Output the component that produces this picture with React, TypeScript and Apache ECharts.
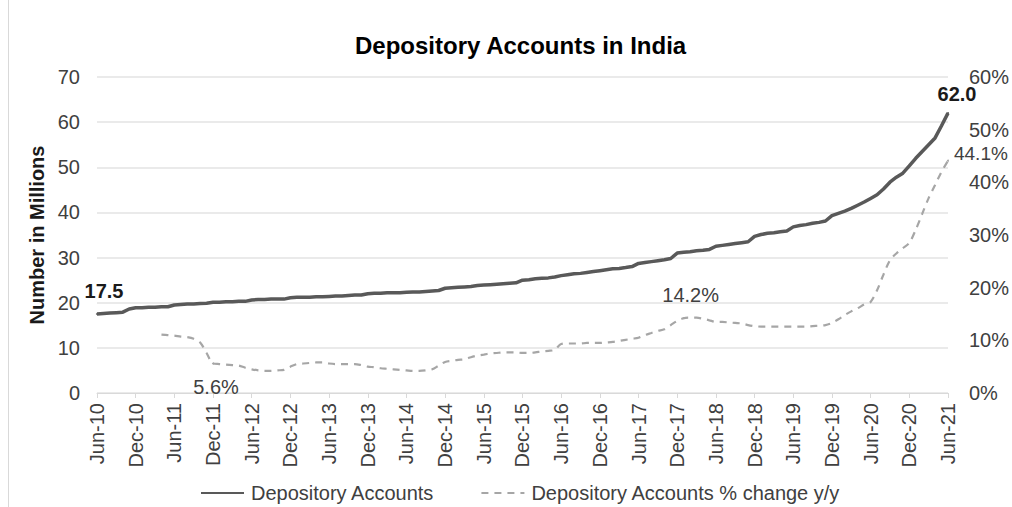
import React, { useEffect, useRef } from "react";
import * as echarts from "echarts";

const MONTH_NAMES = ["Jan", "Feb", "Mar", "Apr", "May", "Jun", "Jul", "Aug", "Sep", "Oct", "Nov", "Dec"];
// Monthly categories Jun-10 .. Jun-21
const CATEGORIES: string[] = [];
for (let y = 2010; y <= 2021; y++) {
  for (let m = 0; m < 12; m++) {
    if (y === 2010 && m < 5) continue;
    if (y === 2021 && m > 5) continue;
    CATEGORIES.push(`${MONTH_NAMES[m]}-${String(y).slice(2)}`);
  }
}

// Depository accounts, millions (Jun-10 .. Jun-21)
const ACCOUNTS = [
  17.5, 17.6, 17.7, 17.8, 17.9, 18.6, 18.9, 18.9, 19.0, 19.0, 19.1, 19.1,
  19.5, 19.6, 19.7, 19.7, 19.8, 19.9, 20.1, 20.1, 20.2, 20.2, 20.3, 20.3,
  20.6, 20.7, 20.7, 20.8, 20.8, 20.8, 21.1, 21.2, 21.2, 21.2, 21.3, 21.3,
  21.4, 21.5, 21.5, 21.6, 21.7, 21.7, 22.0, 22.1, 22.1, 22.2, 22.2, 22.2,
  22.3, 22.4, 22.4, 22.5, 22.6, 22.7, 23.2, 23.3, 23.4, 23.5, 23.6, 23.8,
  23.9, 24.0, 24.1, 24.2, 24.3, 24.4, 25.0, 25.1, 25.3, 25.4, 25.5, 25.7,
  26.0, 26.2, 26.4, 26.5, 26.7, 26.9, 27.1, 27.3, 27.5, 27.6, 27.8, 28.0,
  28.7, 28.9, 29.1, 29.3, 29.5, 29.8, 31.0, 31.2, 31.3, 31.5, 31.6, 31.8,
  32.5, 32.7, 32.9, 33.1, 33.3, 33.5, 34.7, 35.1, 35.4, 35.5, 35.7, 35.9,
  36.8, 37.1, 37.3, 37.6, 37.8, 38.1, 39.3, 39.8, 40.3, 40.9, 41.6, 42.3,
  43.1, 43.9, 45.2, 46.7, 47.8, 48.7, 50.3, 52.0, 53.5, 55.0, 56.5, 59.2,
  62.0,
];

// % change y/y (null before Apr-11)
const CHANGE_PCT: (number | null)[] = [
  null, null, null, null, null, null, null, null, null, null, 11.1, 11.0,
  10.9, 10.7, 10.6, 10.3, 9.6, 7.6, 5.6, 5.5, 5.4, 5.3, 5.2, 4.8,
  4.5, 4.3, 4.2, 4.2, 4.3, 4.4, 5.0, 5.5, 5.6, 5.7, 5.8, 5.8,
  5.6, 5.5, 5.5, 5.5, 5.5, 5.3, 5.0, 4.9, 4.7, 4.6, 4.5, 4.4,
  4.3, 4.2, 4.2, 4.3, 4.5, 5.2, 5.9, 6.1, 6.3, 6.4, 6.8, 7.1,
  7.3, 7.5, 7.6, 7.7, 7.7, 7.7, 7.6, 7.6, 7.7, 7.9, 8.0, 8.2,
  9.3, 9.4, 9.4, 9.4, 9.5, 9.5, 9.5, 9.6, 9.7, 9.9, 10.1, 10.3,
  10.5, 11.0, 11.4, 11.8, 12.1, 12.9, 13.7, 14.2, 14.3, 14.3, 14.1, 13.8,
  13.5, 13.5, 13.4, 13.3, 13.2, 12.9, 12.7, 12.6, 12.6, 12.6, 12.6, 12.6,
  12.6, 12.6, 12.6, 12.7, 12.8, 12.9, 13.3, 14.0, 14.8, 15.5, 16.1, 16.8,
  17.3, 19.5, 22.5, 25.2, 26.5, 27.5, 28.5, 31.0, 34.0, 37.0, 39.5, 42.0,
  44.1,
];

const TITLE = "Depository Accounts in India";
const SERIES_NAMES = ["Depository Accounts", "Depository Accounts % change y/y"];
const LEFT_TICKS = { min: 0, max: 70, interval: 10 };
const RIGHT_TICKS = { min: 0, max: 60, interval: 10 };

const FONT = "'Liberation Sans', Arial, sans-serif";
const FS = 20;

export default function App() {
  const ref = useRef<HTMLDivElement>(null);
  useEffect(() => {
    if (!ref.current) return;
    const chart = echarts.init(ref.current, undefined, { renderer: "svg" });
    const last = ACCOUNTS.length - 1;
    const labelled = (v: number, label: any, color: string) => ({
      value: v,
      symbol: "circle",
      symbolSize: 2,
      itemStyle: { color },
      label: { show: true, fontSize: FS, fontFamily: FONT, ...label },
    });
    const accData = ACCOUNTS.map((v, i) => {
      if (i === 0)
        return labelled(v, { position: "top", distance: 12, offset: [7, 0], fontWeight: "bold", color: "#1a1a1a", formatter: (p: any) => p.value.toFixed(1) }, "#595959");
      if (i === last)
        return labelled(v, { position: "top", distance: 8, offset: [9, 0], fontWeight: "bold", color: "#1a1a1a", formatter: (p: any) => p.value.toFixed(1) }, "#595959");
      return v;
    });
    const pctFmt = (p: any) => p.value.toFixed(1) + "%";
    const pctData = CHANGE_PCT.map((v, i) => {
      if (v == null) return "-";
      if (i === 18)
        return labelled(v, { position: "bottom", distance: 12, offset: [3, 0], color: "#404040", formatter: pctFmt }, "#a6a6a6");
      if (i === 91)
        return labelled(v, { position: "top", distance: 12, offset: [7, 0], color: "#404040", formatter: pctFmt }, "#a6a6a6");
      if (i === last)
        return labelled(v, { position: "right", distance: 5, offset: [0, -7], fontSize: 19, color: "#404040", formatter: pctFmt }, "#a6a6a6");
      return v;
    });

    chart.setOption({
      animation: false,
      backgroundColor: "#ffffff",
      textStyle: { fontFamily: FONT },
      title: {
        text: TITLE,
        left: 350,
        top: 28,
        textStyle: { fontFamily: FONT, fontSize: 24, fontWeight: "bold", color: "#000000" },
      },
      graphic: [
        { type: "line", shape: { x1: 8.5, y1: 0, x2: 8.5, y2: 507 }, style: { stroke: "#d9d9d9", lineWidth: 1 } },
      ],
      legend: {
        left: 195,
        top: 478,
        itemWidth: 43,
        itemHeight: 14,
        itemGap: 46,
        itemStyle: { opacity: 0 },
        textStyle: { fontFamily: FONT, fontSize: FS, color: "#404040", padding: [0, 0, 0, 2] },
        data: SERIES_NAMES,
      },
      grid: { left: 97, right: 62, top: 77, bottom: 114, containLabel: false },
      xAxis: {
        type: "category",
        data: CATEGORIES,
        boundaryGap: false,
        axisLine: { lineStyle: { color: "#d9d9d9", width: 1 } },
        axisTick: { show: true, interval: 5, length: 5, lineStyle: { color: "#d9d9d9" } },
        axisLabel: { interval: 5, rotate: 90, margin: 10, fontSize: FS, color: "#404040", fontFamily: FONT },
        splitLine: { show: false },
      },
      yAxis: [
        {
          type: "value",
          ...LEFT_TICKS,
          name: "Number in Millions",
          nameLocation: "middle",
          nameRotate: 90,
          nameGap: 45,
          nameTextStyle: { fontFamily: FONT, fontSize: FS, fontWeight: "bold", color: "#1a1a1a" },
          axisLine: { show: false },
          axisTick: { show: false },
          axisLabel: { margin: 17, fontSize: FS, color: "#404040", fontFamily: FONT },
          splitLine: { lineStyle: { color: "#e3e3e3", width: 1.5 } },
        },
        {
          type: "value",
          ...RIGHT_TICKS,
          position: "right",
          axisLine: { show: false },
          axisTick: { show: false },
          axisLabel: { margin: 21, fontSize: FS, color: "#404040", fontFamily: FONT, formatter: "{value}%" },
          splitLine: { show: false },
        },
      ],
      series: [
        {
          name: SERIES_NAMES[0],
          type: "line",
          yAxisIndex: 0,
          data: accData,
          symbol: "none",
          showSymbol: true,
          showAllSymbol: true,
          lineStyle: { color: "#595959", width: 3.5 },
          itemStyle: { color: "#595959" },
          z: 3,
        },
        {
          name: SERIES_NAMES[1],
          type: "line",
          yAxisIndex: 1,
          data: pctData,
          symbol: "none",
          showSymbol: true,
          showAllSymbol: true,
          smooth: 0.3,
          lineStyle: { color: "#a6a6a6", width: 2.2, type: [7, 6] },
          itemStyle: { color: "#a6a6a6" },
          z: 2,
        },
      ],
    });
    return () => chart.dispose();
  }, []);
  return <div ref={ref} style={{ position: "fixed", left: 0, top: 0, width: 1012, height: 507 }} />;
}
